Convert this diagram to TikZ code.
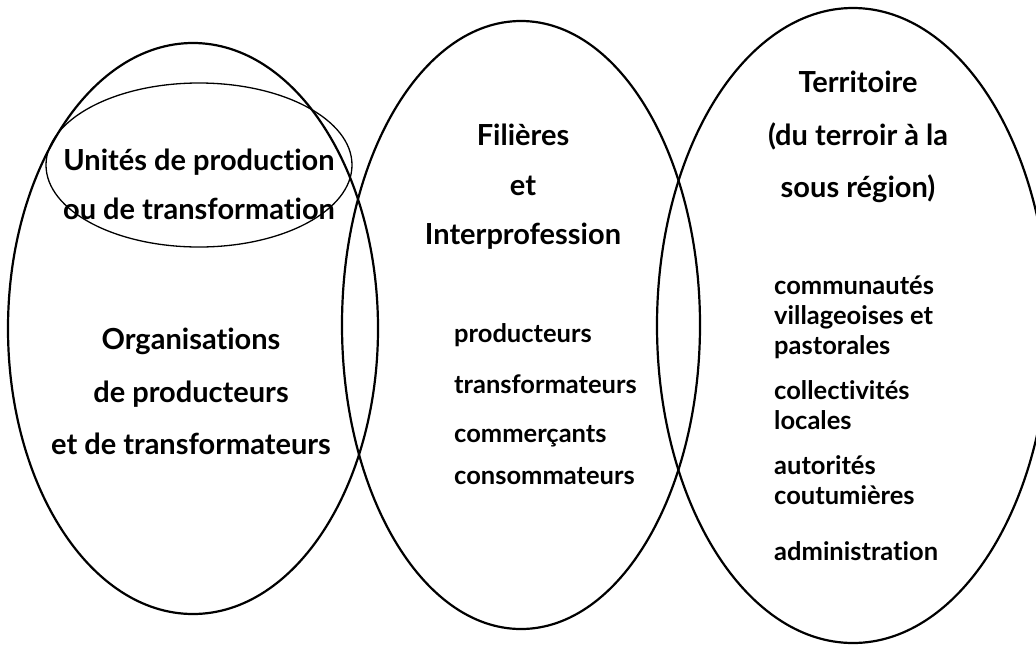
\documentclass[tikz,border=0pt]{standalone}
\usepackage{fontspec}
\setmainfont{Lato}[Ligatures={CommonOff}]
\begin{document}
\begin{tikzpicture}[x=1pt,y=-1pt,
  bigell/.style={line width=2.2pt},
  smallell/.style={line width=1.3pt},
  txt/.style={font=\fontsize{29}{33}\selectfont\bfseries, inner sep=0pt, anchor=mid},
  ltxt/.style={font=\fontsize{25.5}{30}\selectfont\bfseries, inner sep=0pt, anchor=mid west}]
\useasboundingbox (0,0) rectangle (1036,646);
\clip (0,0) rectangle (1036,646);
% ellipses
\coordinate (cl) at (193,328.5);
\coordinate (cm) at (521,325);
\coordinate (cr) at (853,325.5);
\coordinate (cs) at (199,165);
\draw[bigell] (cl) ellipse [x radius=185, y radius=285.5];
\draw[bigell] (cm) ellipse [x radius=179, y radius=304];
\draw[bigell] (cr) ellipse [x radius=196, y radius=317.5];
\draw[smallell] (cs) ellipse [x radius=153, y radius=82];
% left texts
\node[txt] (u1) at (199,168) {Unités de production};
\node[txt] (u2) at (199,217) {ou de transformation};
\node[txt] (o1) at (191,347) {Organisations};
\node[txt] (o2) at (191,400) {de producteurs};
\node[txt] (o3) at (191,452) {et de transformateurs};
% middle texts
\node[txt] (f1) at (523,143) {Filières};
\node[txt] (f2) at (523,193) {et};
\node[txt] (f3) at (523,242) {Interprofession};
\node[ltxt] (m1) at (454,340) {producteurs};
\node[ltxt] (m2) at (454,391) {transformateurs};
\node[ltxt] (m3) at (454,440) {commerçants};
\node[ltxt] (m4) at (454,482) {consommateurs};
% right texts
\node[txt] (t1) at (858,90) {Territoire};
\node[txt] (t2) at (858,143) {(du terroir à la};
\node[txt] (t3) at (858,195) {sous région)};
\node[ltxt] (r1) at (774,292) {communautés};
\node[ltxt] (r2) at (774,322) {villageoises et};
\node[ltxt] (r3) at (774,352) {pastorales};
\node[ltxt] (r4) at (774,397) {collectivités};
\node[ltxt] (r5) at (774,427) {locales};
\node[ltxt] (r6) at (774,472) {autorités};
\node[ltxt] (r7) at (774,502) {coutumières};
\node[ltxt] (r8) at (774,558) {administration};
\end{tikzpicture}
\end{document}
